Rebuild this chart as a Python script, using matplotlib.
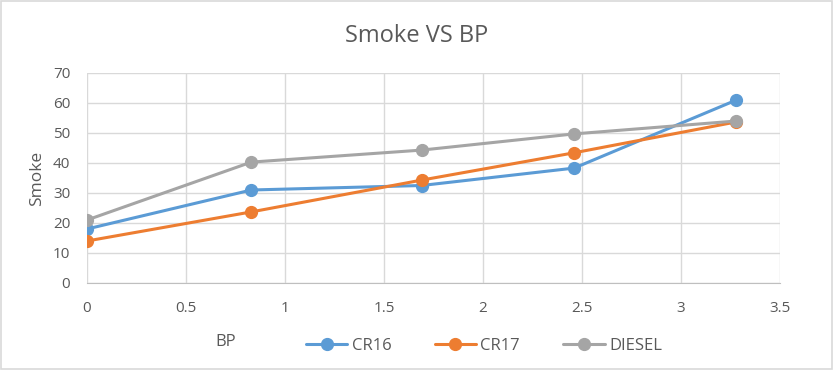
import matplotlib.pyplot as plt
from matplotlib.patches import Rectangle
from matplotlib.ticker import FormatStrFormatter, MultipleLocator

plt.rcParams['font.family'] = ['Open Sans', 'DejaVu Sans']

# data
bp = [0, 0.83, 1.69, 2.46, 3.28]
cr16 = [18, 31, 32.5, 38.3, 61]
cr17 = [14, 23.7, 34.3, 43.4, 53.7]
diesel = [21, 40.3, 44.3, 49.7, 54]

series = [("CR16", cr16, '#5B9BD5'),
          ("CR17", cr17, '#ED7D31'),
          ("DIESEL", diesel, '#A5A5A5')]

txt = '#595959'

fig = plt.figure(figsize=(8.34, 3.70), dpi=100)
ax = fig.add_axes([87 / 834, 1 - 283 / 370, (780 - 87) / 834, (283 - 73) / 370])

for name, vals, c in series:
    ax.plot(bp, vals, color=c, lw=2.2, marker='o', ms=8.5, label=name,
            solid_capstyle='round')

ax.set_xlim(0, 3.5)
ax.set_ylim(0, 70)
ax.xaxis.set_major_locator(MultipleLocator(0.5))
ax.yaxis.set_major_locator(MultipleLocator(10))
ax.xaxis.set_major_formatter(FormatStrFormatter('%g'))
ax.grid(True, color='#d9d9d9', lw=1)
ax.set_axisbelow(True)
for s in ['top', 'right', 'left']:
    ax.spines[s].set_visible(False)
ax.spines['bottom'].set_color('#bfbfbf')
ax.tick_params(length=0, labelsize=11, colors=txt)
ax.tick_params(axis='x', pad=13)
ax.tick_params(axis='y', pad=12)

ax.set_ylabel("Smoke", fontsize=12.5, color=txt, labelpad=6)
fig.text(417 / 834, 1 - 36 / 370, "Smoke VS BP", ha='center', va='center',
         fontsize=17, color=txt)
fig.text(226 / 834, 1 - 342 / 370, "BP", ha='center', va='center',
         fontsize=12, color=txt)

fig.legend(loc='center', bbox_to_anchor=(484 / 834, 1 - 346 / 370), ncol=3,
           frameon=False, fontsize=12, labelcolor=txt, handlelength=2.5,
           columnspacing=2.6, handletextpad=0.25)

fig.patches.append(Rectangle((0.001, 0.002), 0.997, 0.995, transform=fig.transFigure,
                             fill=False, edgecolor='#d9d9d9', lw=1.2))

fig.savefig('out.png', dpi=100)
